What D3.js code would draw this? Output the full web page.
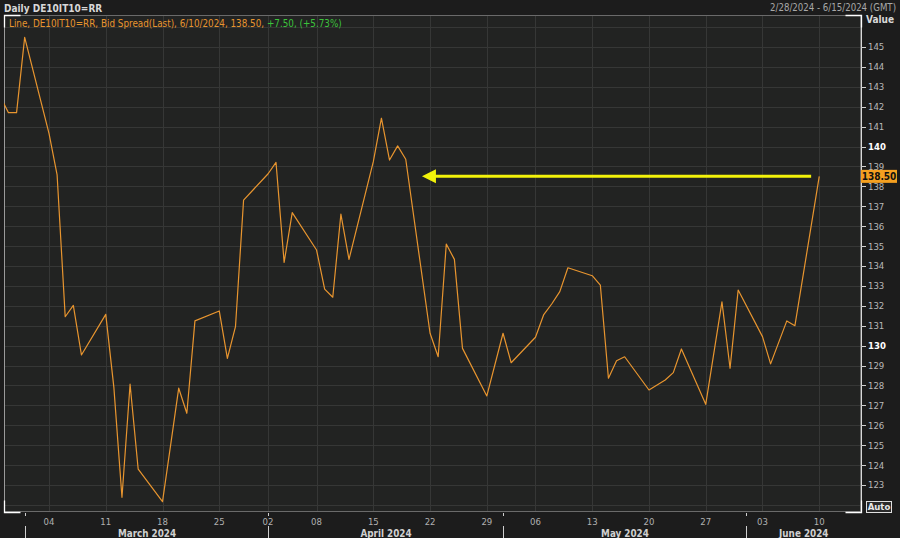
<!DOCTYPE html>
<html><head><meta charset="utf-8">
<script src="https://cdn.jsdelivr.net/npm/d3@7"></script>
<style>
html,body{margin:0;padding:0;background:#1c1c1c;}
svg{display:block;font-family:"DejaVu Sans Condensed","DejaVu Sans",sans-serif;}
</style></head>
<body><svg id="c" width="900" height="538"></svg>
<script>
// ---- data ----
const dates = ["2024-02-27","2024-02-28","2024-02-29","2024-03-01","2024-03-04","2024-03-05","2024-03-06","2024-03-07","2024-03-08",
"2024-03-11","2024-03-12","2024-03-13","2024-03-14","2024-03-15","2024-03-18","2024-03-19","2024-03-20","2024-03-21","2024-03-22",
"2024-03-25","2024-03-26","2024-03-27","2024-03-28","2024-04-02","2024-04-03","2024-04-04","2024-04-05",
"2024-04-08","2024-04-09","2024-04-10","2024-04-11","2024-04-12","2024-04-15","2024-04-16","2024-04-17","2024-04-18","2024-04-19",
"2024-04-22","2024-04-23","2024-04-24","2024-04-25","2024-04-26","2024-04-29","2024-05-02","2024-05-03",
"2024-05-06","2024-05-07","2024-05-08","2024-05-09","2024-05-10","2024-05-13","2024-05-14","2024-05-15","2024-05-16","2024-05-17",
"2024-05-20","2024-05-22","2024-05-23","2024-05-24","2024-05-27","2024-05-29","2024-05-30","2024-05-31",
"2024-06-03","2024-06-04","2024-06-06","2024-06-07","2024-06-10"];
const values = [142.5,141.70,141.70,145.48,140.66,138.57,131.45,132.02,129.53,
131.57,127.9,122.38,128.06,123.79,122.16,125.0,127.86,126.60,131.24,
131.74,129.36,130.95,137.31,138.62,139.20,134.18,136.68,
134.80,132.84,132.43,136.60,134.33,139.24,141.42,139.32,140.03,139.36,
130.62,129.44,135.10,134.33,129.86,127.47,130.62,129.14,
130.42,131.54,132.09,132.71,133.91,133.51,133.04,128.36,129.24,129.44,
127.77,128.27,128.64,129.83,127.05,132.20,128.86,132.79,
130.45,129.08,131.24,131.00,138.50];
const holidays = ["2024-03-29","2024-04-01","2024-05-01"];
const weekTicks = ["2024-03-04","2024-03-11","2024-03-18","2024-03-25","2024-04-02","2024-04-08","2024-04-15","2024-04-22",
"2024-04-29","2024-05-06","2024-05-13","2024-05-20","2024-05-27","2024-06-03","2024-06-10"];
const monthStarts = ["2024-03-01","2024-04-01","2024-05-01","2024-06-01"];
const monthLabels = ["March 2024","April 2024","May 2024","June 2024"];
const yTicks = d3.range(123,146);
const boldTicks = [130,140];
const title = "Daily DE10IT10=RR";
const dateRange = "2/28/2024 - 6/15/2024 (GMT)";
const legendMain = "Line, DE10IT10=RR, Bid Spread(Last), 6/10/2024, 138.50, ";
const legendChange = "+7.50, (+5.73%)";
const lastLabel = "138.50";
const arrow = {from:"2024-06-09", to:"2024-04-21", value:138.5};
const viewStart = "2024-02-28", viewEnd = "2024-06-15";

// ---- helpers ----
const parse = d3.utcParse("%Y-%m-%d");
const origin = parse(viewStart);
const hol = holidays.map(parse);
function tday(s){const d=parse(s);return d3.utcDay.count(origin,d)-hol.filter(h=>h<d).length;}

const L=4,R=861,T=15,B=512;
const x = d3.scaleLinear().domain([tday(viewStart)-0.55, tday(viewEnd)+0.15]).range([L,R]);
const y = d3.scaleLinear().domain([121.642,146.605]).range([B,T]);

const svg = d3.select("#c");
const ORANGE="#e8952f";
svg.append("rect").attr("x",L).attr("y",T).attr("width",R-L).attr("height",B-T).attr("fill","#222322");
const defs=svg.append("defs");
defs.append("clipPath").attr("id","clip").append("rect").attr("x",L).attr("y",T).attr("width",R-L).attr("height",B-T);

// grid
const g=svg.append("g");
g.selectAll("line.h").data(d3.range(122,147)).join("line")
 .attr("x1",L).attr("x2",R).attr("y1",d=>Math.round(y(d))+0.5).attr("y2",d=>Math.round(y(d))+0.5)
 .attr("stroke","#363736").attr("stroke-width",1);
g.selectAll("line.v").data(weekTicks).join("line")
 .attr("y1",T).attr("y2",B).attr("x1",d=>Math.round(x(tday(d)))+0.5).attr("x2",d=>Math.round(x(tday(d)))+0.5)
 .attr("stroke","#363736").attr("stroke-width",1);

// frame
svg.append("rect").attr("x",L+0.5).attr("y",T+0.5).attr("width",R-L-1).attr("height",B-T-1)
 .attr("fill","none").attr("stroke","#6a6a6a");
svg.append("line").attr("x1",L+0.5).attr("x2",L+0.5).attr("y1",T).attr("y2",B).attr("stroke","#9a9a9a");
svg.append("line").attr("x1",R+0.5).attr("x2",R+0.5).attr("y1",T).attr("y2",B+1).attr("stroke","#d8d8d8");
const cw=16;
const corners=[[L+0.5,T+0.5,1,1],[L+0.5,B+0.5,1,-1],[R+0.5,T+0.5,-1,1],[R+0.5,B+0.5,-1,-1]];
svg.selectAll("path.corner").data(corners).join("path")
 .attr("d",c=>`M${c[0]+c[2]*cw},${c[1]}H${c[0]}V${c[1]+c[3]*12}`)
 .attr("fill","none").attr("stroke","#ffffff").attr("stroke-width",1.3);

// line
const line=d3.line().x((d,i)=>x(tday(dates[i]))).y(d=>y(d));
svg.append("path").datum(values).attr("clip-path","url(#clip)")
 .attr("d",line).attr("fill","none").attr("stroke",ORANGE).attr("stroke-width",1.2).attr("stroke-linejoin","round");

// arrow annotation
const ay=y(arrow.value), ax1=x(tday(arrow.from)), ax2=x(tday(arrow.to));
svg.append("line").attr("x1",ax1).attr("x2",ax2+12).attr("y1",ay).attr("y2",ay)
 .attr("stroke","#f2f20a").attr("stroke-width",3);
svg.append("path").attr("d",`M${ax2},${ay}L${ax2+14},${ay-7}L${ax2+14},${ay+7}Z`).attr("fill","#f2f20a");

// y axis
const ya=svg.append("g");
ya.selectAll("line").data(yTicks).join("line")
 .attr("x1",R).attr("x2",R+5).attr("y1",d=>Math.round(y(d))+0.5).attr("y2",d=>Math.round(y(d))+0.5)
 .attr("stroke","#cfcfcf");
ya.selectAll("text").data(yTicks).join("text")
 .attr("x",R+7).attr("y",d=>y(d)+3.5).text(d=>d)
 .attr("font-size",9.5).attr("fill",d=>boldTicks.includes(d)?"#ffffff":"#b8b8b8")
 .attr("font-weight",d=>boldTicks.includes(d)?"bold":"normal");
svg.append("text").attr("x",R+5).attr("y",23).text("Value").attr("font-size",10).attr("font-weight","bold").attr("fill","#d8d8d8");
const ly=y(values[values.length-1]);
svg.append("rect").attr("x",R).attr("y",ly-6.5).attr("width",36).attr("height",13).attr("fill","#f5a020");
svg.append("text").attr("x",R+18).attr("y",ly+3.6).attr("text-anchor","middle").text(lastLabel)
 .attr("font-size",10).attr("font-weight","bold").attr("fill","#111");
svg.append("rect").attr("x",R+5.5).attr("y",501.5).attr("width",25).attr("height",11).attr("fill","#2a2a2a").attr("stroke","#e0e0e0");
svg.append("text").attr("x",R+18).attr("y",510.3).attr("text-anchor","middle").text("Auto")
 .attr("font-size",9.5).attr("font-weight","bold").attr("fill","#e8e8e8");

// x axis
const xa=svg.append("g");
xa.selectAll("text.w").data(weekTicks).join("text")
 .attr("x",d=>x(tday(d))).attr("y",525).attr("text-anchor","middle")
 .text(d=>d3.utcFormat("%d")(parse(d))).attr("font-size",9.5).attr("fill","#b0b0b0");
const mx=monthStarts.map(d=>Math.round(x(tday(d)))+0.5);
xa.selectAll("line.m1").data(mx).join("line").attr("x1",d=>d).attr("x2",d=>d).attr("y1",B+1).attr("y2",B+4).attr("stroke","#cfcfcf");
xa.selectAll("line.m2").data(mx).join("line").attr("x1",d=>d).attr("x2",d=>d).attr("y1",526).attr("y2",538).attr("stroke","#cfcfcf");
xa.selectAll("text.m").data(monthLabels).join("text")
 .attr("x",(d,i)=>(mx[i]+(i<mx.length-1?mx[i+1]:R))/2).attr("y",536.5).attr("text-anchor","middle")
 .text(d=>d).attr("font-size",9.8).attr("font-weight","bold").attr("fill","#d0d0d0");

// header
svg.append("text").attr("x",4).attr("y",11.5).text(title).attr("font-size",10).attr("font-weight","bold").attr("fill","#d8d8d8");
svg.append("text").attr("x",896).attr("y",11).attr("text-anchor","end").text(dateRange).attr("font-size",9.6).attr("fill","#a8a8a8");
const lg=svg.append("text").attr("x",9).attr("y",26.5).attr("font-size",9.8);
lg.append("tspan").text(legendMain).attr("fill",ORANGE);
lg.append("tspan").text(legendChange).attr("fill","#3cc23c");
</script></body></html>
